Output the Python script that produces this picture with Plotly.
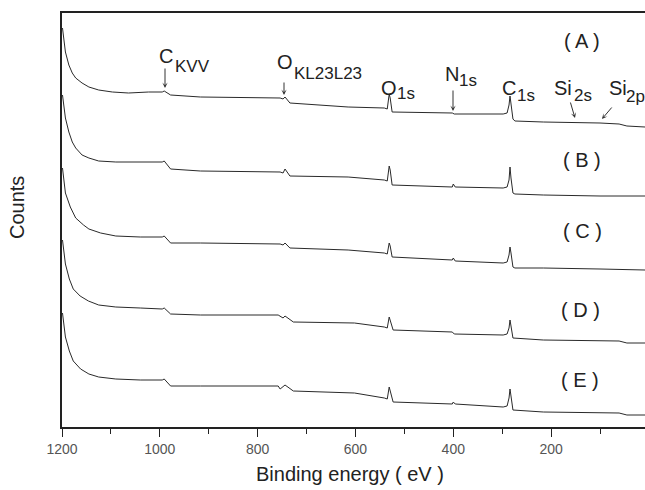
import plotly.graph_objects as go

# ---- data (binding energy in eV, counts in a.u.) ----
energy_A = [1199, 1198, 1196, 1193, 1186, 1179, 1172, 1159, 1145, 1125, 1097, 1064, 1023, 995, 991, 978,
            917, 815, 754, 748, 744, 734, 615, 541, 535, 531, 529, 525, 402, 398, 298, 290, 286, 284, 282,
            278, 274, 216, 100, 61, 45, 8]
counts_A = [399, 394, 387, 375, 362, 354, 349, 344, 340, 337, 335, 334, 335, 335, 336, 332,
            330, 329, 329, 328, 330, 324, 320, 319, 318, 333, 329, 315, 314, 313, 313, 314, 322, 331, 323,
            308, 306, 305, 304, 303, 301, 300]

energy_B = [1199, 1198, 1196, 1193, 1186, 1179, 1172, 1159, 1145, 1125, 1090, 1040, 995, 991, 978,
            917, 754, 748, 744, 734, 615, 541, 535, 531, 529, 525, 402, 400, 396, 298, 290, 286, 284, 282,
            278, 274, 216, 100, 8]
counts_B = [332, 327, 322, 309, 295, 285, 279, 272, 269, 266, 265, 265, 265, 266, 258,
            256, 255, 254, 258, 251, 250, 247, 246, 261, 257, 242, 240, 243, 240, 239, 240, 247, 260, 249,
            234, 233, 232, 231, 231]

energy_C = [1199, 1198, 1196, 1193, 1183, 1172, 1156, 1145, 1121, 1090, 1040, 995, 991, 978,
            917, 754, 748, 744, 734, 615, 541, 535, 531, 529, 525, 402, 400, 396, 298, 290, 286, 284, 282,
            278, 274, 216, 100, 8]
counts_C = [259, 254, 246, 234, 220, 209, 202, 198, 194, 191, 190, 190, 191, 184,
            184, 183, 182, 184, 179, 177, 174, 173, 184, 181, 170, 167, 169, 166, 164, 165, 172, 180, 174,
            160, 159, 159, 158, 157]

energy_D = [1199, 1198, 1196, 1193, 1185, 1177, 1163, 1146, 1125, 1090, 1040, 995, 991, 978,
            917, 758, 748, 744, 727, 602, 541, 535, 531, 529, 523, 402, 398, 298, 290, 286, 284, 282,
            278, 216, 61, 45, 8]
counts_D = [187, 182, 175, 163, 148, 138, 131, 126, 122, 120, 119, 118, 119, 113,
            112, 112, 109, 111, 105, 104, 100, 99, 110, 107, 97, 95, 93, 92, 93, 99, 107, 101,
            89, 87, 86, 84, 84]

energy_E = [1199, 1198, 1196, 1193, 1185, 1177, 1162, 1145, 1125, 1090, 1040, 995, 991, 978,
            917, 758, 754, 744, 727, 602, 541, 535, 531, 529, 523, 402, 400, 396, 298, 290, 286, 284, 282,
            278, 216, 61, 45, 8]
counts_E = [114, 109, 103, 90, 76, 66, 58, 53, 50, 48, 47, 47, 48, 41,
            41, 41, 38, 42, 36, 34, 29, 28, 40, 36, 25, 23, 25, 23, 20, 21, 29, 38, 31,
            17, 15, 14, 12, 12]

series_energy = [energy_A, energy_B, energy_C, energy_D, energy_E]
series_counts = [counts_A, counts_B, counts_C, counts_D, counts_E]
series_names = ["( A )", "( B )", "( C )", "( D )", "( E )"]

x_ticks = [1200, 1000, 800, 600, 400, 200]
x_tick_labels = ["1200", "1000", "800", "600", "400", "200"]

# ---- layout geometry ----
W, H = 645, 490
ML, MR, MT, MB = 62, 0, 13, 63
PW, PH = W - ML - MR, H - MT - MB
FONT = "Liberation Sans, Arial, sans-serif"
INK = "#222222"


def px(x):
    return (x - ML) / PW


def py(y):
    return (H - MB - y) / PH


fig = go.Figure()
for e, c, n in zip(series_energy, series_counts, series_names):
    fig.add_trace(go.Scatter(x=e, y=c, mode="lines", name=n,
                             line=dict(color="#2a2a2a", width=1), hoverinfo="skip"))

ann = []


def text(t, x, y, size, color=INK, **kw):
    ann.append(dict(text=t, x=px(x), y=py(y), xref="paper", yref="paper",
                    xanchor="center", yanchor="middle", showarrow=False,
                    font=dict(family=FONT, size=size, color=color), **kw))


def arrow(tipx, tipy, tailx, taily):
    ann.append(dict(text="", x=px(tipx), y=py(tipy), xref="paper", yref="paper",
                    ax=tailx - tipx, ay=taily - tipy, showarrow=True,
                    arrowhead=3, arrowsize=0.9, arrowwidth=1, arrowcolor="#333333",
                    standoff=0, startstandoff=0))


# series labels
label_pos = [(582, 41), (582, 160), (582, 231), (580, 310), (580, 380)]
for n, (lx, ly) in zip(series_names, label_pos):
    text(n, lx, ly, 20)

# peak labels (main letter + subscript)
text("C", 166, 56, 20); text("KVV", 192, 66, 17)
text("O", 285, 62, 20); text("KL23L23", 328, 73, 17)
text("O", 389, 88, 20); text("1s", 406, 94, 17)
text("N", 452, 74, 20); text("1s", 468, 81, 17)
text("C", 509, 88, 20); text("1s", 526, 95, 17)
text("Si", 563, 88, 20); text("2s", 583, 95, 17)
text("Si", 618, 88, 20); text("2p", 635, 96, 17)

arrow(165, 88, 165, 67)
arrow(284, 95, 284, 81)
arrow(453, 111, 453, 89)
arrow(575, 118, 570, 101)
arrow(602, 119, 613, 106)

# axis titles
text("Binding energy ( eV )", 350, 474, 20)
text("Counts", 17, 208, 20, textangle=-90)

fig.update_layout(
    width=W, height=H,
    margin=dict(l=ML, r=MR, t=MT, b=MB, pad=0),
    paper_bgcolor="white", plot_bgcolor="white",
    showlegend=False,
    annotations=ann,
    xaxis=dict(range=[1200, 8], tickmode="array", tickvals=x_ticks, ticktext=x_tick_labels,
               ticks="outside", ticklen=8, tickwidth=1.2, tickcolor=INK,
               minor=dict(dtick=100, tick0=0, ticks="outside", ticklen=5, tickwidth=1, tickcolor=INK),
               showline=True, linecolor=INK, linewidth=1.6, mirror=True,
               showgrid=False, zeroline=False,
               tickfont=dict(family=FONT, size=14, color="#555555")),
    yaxis=dict(range=[0, PH], showline=True, linecolor=INK, linewidth=1.6,
               showticklabels=False, ticks="", showgrid=False, zeroline=False),
)

fig.write_html("out.html", config={"displayModeBar": False},
               post_script="document.body.style.margin='0px';document.body.style.overflow='hidden';")
